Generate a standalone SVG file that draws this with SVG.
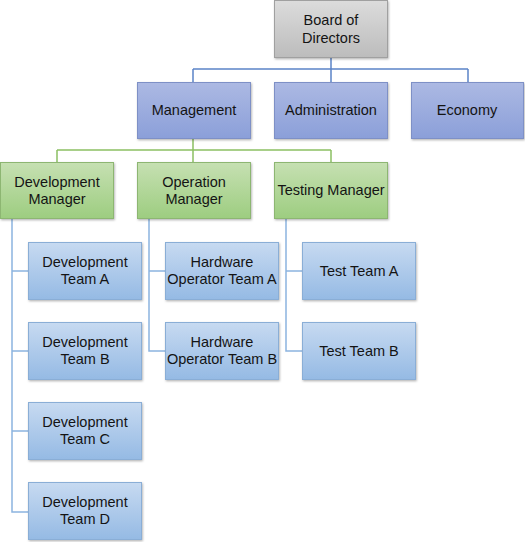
<svg xmlns="http://www.w3.org/2000/svg" width="525" height="542" viewBox="0 0 525 542">
<defs>
<linearGradient id="gGray" x1="0" y1="0" x2="0" y2="1"><stop offset="0" stop-color="#dcdcdc"/><stop offset="1" stop-color="#bcbcbc"/></linearGradient>
<linearGradient id="gBlue" x1="0" y1="0" x2="0" y2="1"><stop offset="0" stop-color="#acb9e3"/><stop offset="1" stop-color="#8b9fd9"/></linearGradient>
<linearGradient id="gGreen" x1="0" y1="0" x2="0" y2="1"><stop offset="0" stop-color="#c6e0b2"/><stop offset="1" stop-color="#9dcd80"/></linearGradient>
<linearGradient id="gTeam" x1="0" y1="0" x2="0" y2="1"><stop offset="0" stop-color="#c7daf1"/><stop offset="1" stop-color="#95bae4"/></linearGradient>
<filter id="sh" x="-10%" y="-10%" width="120%" height="130%"><feDropShadow dx="0.8" dy="1.2" stdDeviation="0.8" flood-color="#000" flood-opacity="0.3"/></filter>
</defs>
<style>
rect{stroke-width:1;filter:url(#sh)}
.gray rect{fill:url(#gGray);stroke:#a0a0a0}
.blue rect{fill:url(#gBlue);stroke:#7e90c6}
.green rect{fill:url(#gGreen);stroke:#8db672}
.team rect{fill:url(#gTeam);stroke:#8aaed6}
text{font-family:"Liberation Sans",Arial,sans-serif;font-size:14.5px;fill:#141414;text-anchor:middle}
.c1{fill:none;stroke:#5b84c8;stroke-width:1.5}
.c2{fill:none;stroke:#8cc063;stroke-width:1.5}
.c3{fill:none;stroke:#8cb4e0;stroke-width:1.5}
</style>
<g id="connectors">
<path class="c1" d="M331 57V69M193 69H468M193 69V82M331 69V82M468 69V82"/>
<path class="c2" d="M193 138V150M57 150H331M57 150V162M193 150V162M331 150V162"/>
<path class="c3" d="M12 218V512H28M12 271H28M12 351H28M12 431H28"/>
<path class="c3" d="M149 218V351H166M149 271H166"/>
<path class="c3" d="M286 218V351H302M286 271H302"/>
</g>
<g id="board" class="gray"><rect x="274.5" y="0.5" width="113" height="57"/><text x="331" y="25">Board of</text><text x="331" y="43">Directors</text></g>
<g id="management" class="blue"><rect x="137.5" y="82.5" width="113" height="56"/><text x="194" y="115">Management</text></g>
<g id="administration" class="blue"><rect x="274.5" y="82.5" width="113" height="56"/><text x="331" y="115">Administration</text></g>
<g id="economy" class="blue"><rect x="411.5" y="82.5" width="112" height="56"/><text x="467" y="115">Economy</text></g>
<g id="dev-manager" class="green"><rect x="0.5" y="162.5" width="113" height="56"/><text x="57" y="187">Development</text><text x="57" y="204">Manager</text></g>
<g id="op-manager" class="green"><rect x="137.5" y="162.5" width="113" height="56"/><text x="194" y="187">Operation</text><text x="194" y="204">Manager</text></g>
<g id="test-manager" class="green"><rect x="274.5" y="162.5" width="113" height="56"/><text x="331" y="195">Testing Manager</text></g>
<g id="dev-a" class="team"><rect x="28.5" y="242.5" width="113" height="57"/><text x="85" y="267">Development</text><text x="85" y="284">Team A</text></g>
<g id="dev-b" class="team"><rect x="28.5" y="322.5" width="113" height="57"/><text x="85" y="347">Development</text><text x="85" y="364">Team B</text></g>
<g id="dev-c" class="team"><rect x="28.5" y="402.5" width="113" height="57"/><text x="85" y="427">Development</text><text x="85" y="444">Team C</text></g>
<g id="dev-d" class="team"><rect x="28.5" y="482.5" width="113" height="57"/><text x="85" y="507">Development</text><text x="85" y="524">Team D</text></g>
<g id="hw-a" class="team"><rect x="165.5" y="242.5" width="113" height="57"/><text x="222" y="267">Hardware</text><text x="222" y="284">Operator Team A</text></g>
<g id="hw-b" class="team"><rect x="165.5" y="322.5" width="113" height="57"/><text x="222" y="347">Hardware</text><text x="222" y="364">Operator Team B</text></g>
<g id="test-a" class="team"><rect x="302.5" y="242.5" width="113" height="57"/><text x="359" y="276">Test Team A</text></g>
<g id="test-b" class="team"><rect x="302.5" y="322.5" width="113" height="57"/><text x="359" y="356">Test Team B</text></g>
</svg>
